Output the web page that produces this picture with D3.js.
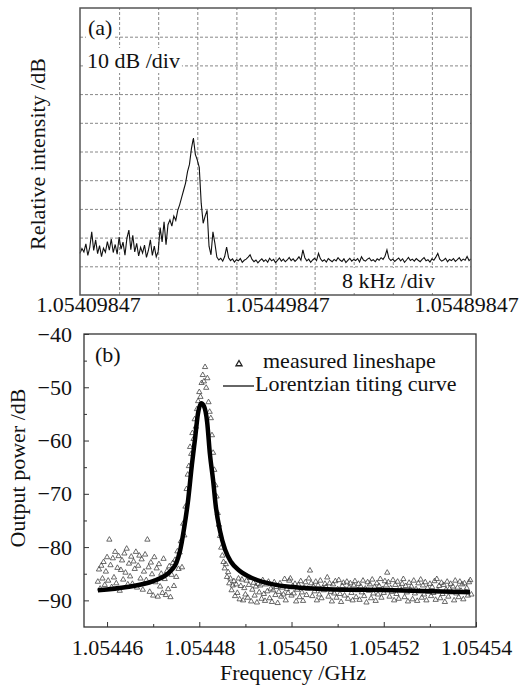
<!DOCTYPE html>
<html>
<head>
<meta charset="utf-8">
<script src="https://cdn.jsdelivr.net/npm/d3@7"></script>
<style>
body { margin: 0; background: #fff; }
svg { font-family: "Liberation Serif", "DejaVu Serif", serif; }
.grid line { stroke: #888; stroke-dasharray: 3,2; }
.grid .domain { display: none; }
</style>
</head>
<body>
<div id="chart-area"></div>
<script>

// (a) spectrum analyser trace, one value every 0.05 div, in divisions (10 dB/div)
var traceStep = 0.05;
var traceA = [
    1.45, 1.62, 1.50, 1.78, 1.38, 1.66, 2.20, 1.55, 1.92, 1.44,
    1.72, 1.34, 1.63, 1.49, 1.86, 1.56, 1.95, 1.48, 1.76, 1.42,
    2.02, 1.60, 1.84, 1.39, 1.98, 2.26, 1.58, 2.08, 1.50, 1.80,
    1.36, 1.66, 1.46, 1.74, 1.31, 1.56, 1.92, 1.38, 1.70, 1.33,
    1.52,
    2.35, 1.85, 2.55, 1.75, 2.45, 2.62, 2.40, 2.75, 2.60, 2.95,
    3.15, 3.40, 3.65, 3.90, 4.30, 4.55, 5.10, 5.47, 4.90, 4.70,
    4.45, 3.20, 2.50, 2.75, 2.95, 1.70, 1.40, 2.20, 1.80, 1.32,
    1.22, 1.28, 1.18, 1.34, 1.67, 1.30, 1.20, 1.26, 1.15, 1.23,
    1.19, 1.27, 1.14, 1.21, 1.25, 1.32, 1.40, 1.24, 1.16, 1.22,
    1.12, 1.20, 1.26, 1.17, 1.23, 1.14, 1.28, 1.19, 1.24, 1.13,
    1.21, 1.29, 1.18, 1.25, 1.16, 1.22, 1.31, 1.20, 1.26, 1.17,
    1.24, 1.33, 1.21, 1.57, 1.30, 1.19, 1.25, 1.14, 1.22, 1.28,
    1.20, 1.45, 1.26, 1.18, 1.23, 1.15, 1.27, 1.21, 1.16, 1.24,
    1.19, 1.30, 1.22, 1.17, 1.26, 1.13, 1.21, 1.28, 1.18, 1.24,
    1.20, 1.27, 1.15, 1.33, 1.22, 1.18, 1.25, 1.29, 1.19, 1.23,
    1.16, 1.26, 1.21, 1.30, 1.24, 1.35, 1.57, 1.28, 1.20, 1.25,
    1.17, 1.23, 1.29, 1.19, 1.26, 1.14, 1.22, 1.31, 1.20, 1.25,
    1.18, 1.27, 1.21, 1.16, 1.24, 1.30, 1.19, 1.23, 1.15, 1.26,
    1.21, 1.32, 1.45, 1.25, 1.18, 1.22, 1.28, 1.16, 1.24, 1.20,
    1.27, 1.17, 1.23, 1.30, 1.19, 1.25, 1.21, 1.34, 1.20, 1.26
];
var freqLabelsA = [1.05409847, 1.05449847, 1.05489847];

// (b) measured lineshape, sampled every 0.25 kHz from 1.054458 GHz (dB)
var measStart = 1.054458,
    measStep = 0.00000025;
var measured = [
    -86.5, -84.2, -87.8, -83.5, -85.9, -82.8, -87.1, -84.6, -81.9, -86.3,
    -78.6, -83.4, -87.5, -82.1, -85.7, -80.9, -86.8, -83.9, -81.7, -88.2,
    -84.3, -82.5, -86.1, -81.2, -84.8, -80.3, -87.0, -83.1, -85.5, -81.8,
    -86.9, -82.7, -84.1, -80.9, -87.6, -83.5, -81.6, -85.9, -82.3, -88.0,
    -84.6, -81.4, -86.2, -78.6, -83.8, -88.4, -82.9, -85.1, -89.1, -81.9,
    -86.6, -84.0, -89.3, -83.2, -87.4, -85.0, -88.6, -82.2, -86.0,
    -89.0, -84.5, -87.9, -83.6, -89.4, -85.2, -83.0, -87.3, -82.4, -85.6,
    -80.8, -84.1, -81.0, -78.9, -83.8, -75.6, -77.8, -72.4, -69.1, -66.4,
    -64.8, -61.2, -62.5, -58.6, -59.7, -56.0, -57.4, -54.1, -52.6, -50.9,
    -51.8, -49.2, -47.7, -48.9, -46.2, -50.1, -48.3, -52.8, -54.6, -55.8,
    -59.0, -62.3, -65.5, -68.4, -70.5, -73.6, -75.8, -77.9, -80.1, -81.6,
    -82.8, -84.0, -83.2, -85.6, -84.7, -86.8, -85.9, -88.1, -87.2,
    -86.4, -89.2, -87.0, -88.6, -85.9, -89.8, -87.3, -86.1, -90.0, -87.7,
    -88.9, -86.3, -89.5, -87.1, -85.8, -90.2, -88.0, -86.7, -89.1, -87.4,
    -90.4, -86.9, -88.5, -87.2, -89.7, -86.2, -88.8, -90.1, -87.0, -88.3,
    -86.5, -89.6, -87.8, -90.3, -88.1, -86.6, -89.0, -87.5, -90.5, -88.4,
    -86.8, -89.3, -87.6, -88.9, -86.0, -90.0, -87.9, -88.6, -86.3, -85.9,
    -89.1, -87.3, -88.7, -86.9, -90.2, -88.0, -87.1, -89.4, -86.4, -88.5,
    -90.1, -87.6, -86.6, -89.0, -87.8, -85.9, -84.4, -86.8, -89.2, -87.4,
    -88.3, -86.5, -90.0, -87.2, -88.9, -86.3, -89.6, -87.7, -88.1, -86.9,
    -87.5, -85.7, -89.3, -86.8, -88.4, -90.2, -87.0, -88.7, -86.4, -89.5,
    -87.9, -86.2, -88.8, -90.3, -87.3, -86.7, -89.1, -88.0, -86.5, -89.7,
    -87.6, -86.8, -88.6, -90.0, -87.2, -86.4, -89.4, -88.1, -86.9, -89.9,
    -87.4, -88.5, -86.3, -89.2, -87.8, -90.4, -86.6, -88.2, -87.0, -89.6,
    -86.1, -88.7, -87.5, -90.1, -86.8, -88.9, -87.3, -86.0, -89.5, -87.9,
    -88.6, -86.4, -87.2, -84.8, -86.6, -89.3, -87.7, -88.4, -86.2, -90.0,
    -87.1, -88.8, -86.5, -89.7, -87.6, -88.1, -86.9, -86.0, -89.4, -87.3,
    -88.5, -90.2, -86.7, -88.0, -87.4, -89.8, -86.3, -88.7, -87.9, -90.1,
    -86.8, -88.3, -86.1, -89.5, -87.2, -88.9, -86.6, -90.0, -87.7, -88.4,
    -86.9, -89.2, -87.5, -88.6, -86.4, -89.9, -86.0, -88.1, -87.3, -89.6,
    -86.7, -88.8, -87.1, -90.3, -88.0, -86.5, -89.3, -87.8, -86.9, -88.5,
    -87.4, -90.0, -86.3, -88.7, -87.6, -89.4, -86.5, -88.2, -87.0, -89.8,
    -86.8, -88.4, -87.7, -89.1, -86.6, -86.2, -88.9
];

// (b) Lorentzian fit curve
var fitFreq = [
    1.0544580, 1.0544643, 1.0544700, 1.0544730, 1.0544741, 1.0544750,
    1.0544758, 1.0544767, 1.0544776, 1.0544784, 1.0544791, 1.0544797,
    1.0544804, 1.0544810, 1.0544817, 1.0544823, 1.0544830, 1.0544836,
    1.0544845, 1.0544856, 1.0544869, 1.0544888, 1.0544917, 1.0544960,
    1.0545003, 1.0545077, 1.0545220, 1.0545387
];
var fitPower = [
    -88.1, -87.5, -86.4, -85.1, -84.2, -83.0,
    -80.8, -76.5, -71.0, -64.5, -59.5, -55.0,
    -53.0, -53.5, -56.5, -62.5, -67.5, -72.5,
    -77.0, -80.5, -82.8, -84.5, -85.9, -87.0,
    -87.5, -87.9, -88.1, -88.5
];

var freqTicksB = [1.05446, 1.05448, 1.05450, 1.05452, 1.05454];
var freqMinorB = [1.05447, 1.05449, 1.05451, 1.05453];
var powerTicks = [-90, -80, -70, -60, -50, -40];
var powerMinor = [-85, -75, -65, -55, -45];

var W = 525, H = 686;

var svg = d3.select("#chart-area")
    .append("svg")
    .attr("width", W)
    .attr("height", H);

// text with a white box behind it
function boxedText(g, x, y, str) {
    var t = g.append("text")
        .attr("x", x)
        .attr("y", y)
        .style("font-size", "22px")
        .attr("fill", "#111")
        .text(str);
    var bb = t.node().getBBox();
    g.insert("rect", function() { return t.node(); })
        .attr("x", bb.x - 2)
        .attr("y", bb.y)
        .attr("width", bb.width + 4)
        .attr("height", bb.height)
        .attr("fill", "#fff");
    return t;
}

// ---------- panel (a) ----------
var a = { left: 80, right: 471, top: 8, bottom: 295 };

var xDiv = d3.scaleLinear().domain([0, 10]).range([a.left, a.right]);
var yDiv = d3.scaleLinear().domain([0, 10]).range([a.bottom, a.top]);

var gA = svg.append("g");

gA.append("g")
    .attr("class", "grid")
    .attr("transform", "translate(0," + a.bottom + ")")
    .call(d3.axisBottom(xDiv)
        .tickValues(d3.range(1, 10))
        .tickSize(-(a.bottom - a.top))
        .tickFormat(""));

gA.append("g")
    .attr("class", "grid")
    .attr("transform", "translate(" + a.left + ",0)")
    .call(d3.axisLeft(yDiv)
        .tickValues(d3.range(1, 10))
        .tickSize(-(a.right - a.left))
        .tickFormat(""));

var traceLine = d3.line()
    .x(function(d, i) { return xDiv(i * traceStep); })
    .y(function(d) { return yDiv(d); });

gA.append("path")
    .datum(traceA)
    .attr("d", traceLine)
    .attr("fill", "none")
    .attr("stroke", "#111")
    .attr("stroke-width", 1.1);

gA.append("rect")
    .attr("x", a.left)
    .attr("y", a.top)
    .attr("width", a.right - a.left)
    .attr("height", a.bottom - a.top)
    .attr("fill", "none")
    .attr("stroke", "#555")
    .attr("stroke-width", 1.5);

boxedText(gA, 88, 35, "(a)");
boxedText(gA, 87, 68, "10 dB /div");
boxedText(gA, 342, 288, "8 kHz /div");

var xLab = d3.scaleLinear()
    .domain([freqLabelsA[0], freqLabelsA[2]])
    .range([88, 466]);

var axA = gA.append("g")
    .attr("transform", "translate(0," + a.bottom + ")")
    .call(d3.axisBottom(xLab)
        .tickValues(freqLabelsA)
        .tickSize(0)
        .tickPadding(1.5)
        .tickFormat(d3.format(".8f")));
axA.select(".domain").remove();
axA.selectAll("text")
    .style("font-size", "22px")
    .style("font-family", "Liberation Serif")
    .attr("fill", "#111");

gA.append("text")
    .attr("transform", "rotate(-90)")
    .attr("x", -154)
    .attr("y", 45)
    .attr("text-anchor", "middle")
    .style("font-size", "22px")
    .attr("fill", "#111")
    .text("Relative intensity /dB");

// ---------- panel (b) ----------
var b = { left: 84, right: 476, top: 334, bottom: 627 };

var xB = d3.scaleLinear().domain([1.054455, 1.05454]).range([b.left, b.right]);
var yB = d3.scaleLinear().domain([-95, -40]).range([b.bottom, b.top]);

var gB = svg.append("g");

var measData = measured.map(function(v, i) {
    return { f: measStart + i * measStep, p: v };
});

var tri = d3.symbol().type(d3.symbolTriangle).size(12);

gB.selectAll("path.meas")
    .data(measData)
    .enter().append("path")
    .attr("class", "meas")
    .attr("d", tri)
    .attr("transform", function(d) { return "translate(" + xB(d.f) + "," + yB(d.p) + ")"; })
    .attr("fill", "none")
    .attr("stroke", "#444")
    .attr("stroke-width", 0.8);

var fitData = fitFreq.map(function(f, i) { return { f: f, p: fitPower[i] }; });

gB.append("path")
    .datum(fitData)
    .attr("d", d3.line()
        .curve(d3.curveMonotoneX)
        .x(function(d) { return xB(d.f); })
        .y(function(d) { return yB(d.p); }))
    .attr("fill", "none")
    .attr("stroke", "#000")
    .attr("stroke-width", 4.5)
    .attr("stroke-linejoin", "round");

gB.append("rect")
    .attr("x", b.left)
    .attr("y", b.top)
    .attr("width", b.right - b.left)
    .attr("height", b.bottom - b.top)
    .attr("fill", "none")
    .attr("stroke", "#333")
    .attr("stroke-width", 1.3);

gB.append("g")
    .attr("transform", "translate(0," + b.bottom + ")")
    .call(d3.axisBottom(xB)
        .tickValues(freqTicksB)
        .tickSizeInner(-5)
        .tickSizeOuter(0)
        .tickPadding(12)
        .tickFormat(d3.format(".5f")));

gB.append("g")
    .attr("transform", "translate(0," + b.bottom + ")")
    .call(d3.axisBottom(xB)
        .tickValues(freqMinorB)
        .tickSizeInner(-3)
        .tickSizeOuter(0)
        .tickFormat(""));

gB.append("g")
    .attr("transform", "translate(" + b.left + ",0)")
    .call(d3.axisLeft(yB)
        .tickValues(powerTicks)
        .tickSizeInner(-5)
        .tickSizeOuter(0)
        .tickPadding(12)
        .tickFormat(d3.format("d")));

gB.append("g")
    .attr("transform", "translate(" + b.left + ",0)")
    .call(d3.axisLeft(yB)
        .tickValues(powerMinor)
        .tickSizeInner(-3)
        .tickSizeOuter(0)
        .tickFormat(""));

gB.selectAll(".domain").remove();
gB.selectAll(".tick line").attr("stroke", "#333");
gB.selectAll(".tick text")
    .style("font-size", "22px")
    .style("font-family", "Liberation Serif")
    .attr("fill", "#111");

gB.append("text")
    .attr("x", 95)
    .attr("y", 362)
    .style("font-size", "22px")
    .attr("fill", "#111")
    .text("(b)");

// legend
gB.append("path")
    .attr("d", d3.symbol().type(d3.symbolTriangle).size(16))
    .attr("transform", "translate(239,364)")
    .attr("fill", "none")
    .attr("stroke", "#222")
    .attr("stroke-width", 1.3);

gB.append("text")
    .attr("x", 263)
    .attr("y", 368)
    .style("font-size", "22px")
    .attr("fill", "#111")
    .text("measured lineshape");

gB.append("line")
    .attr("x1", 223)
    .attr("x2", 254)
    .attr("y1", 386)
    .attr("y2", 386)
    .attr("stroke", "#333")
    .attr("stroke-width", 1.5);

gB.append("text")
    .attr("x", 255)
    .attr("y", 391)
    .style("font-size", "22px")
    .attr("fill", "#111")
    .text("Lorentzian titing curve");

gB.append("text")
    .attr("transform", "rotate(-90)")
    .attr("x", -468)
    .attr("y", 25)
    .attr("text-anchor", "middle")
    .style("font-size", "22px")
    .attr("fill", "#111")
    .text("Output power /dB");

gB.append("text")
    .attr("x", 293)
    .attr("y", 680)
    .attr("text-anchor", "middle")
    .style("font-size", "22px")
    .attr("fill", "#111")
    .text("Frequency /GHz");

</script>
</body>
</html>
